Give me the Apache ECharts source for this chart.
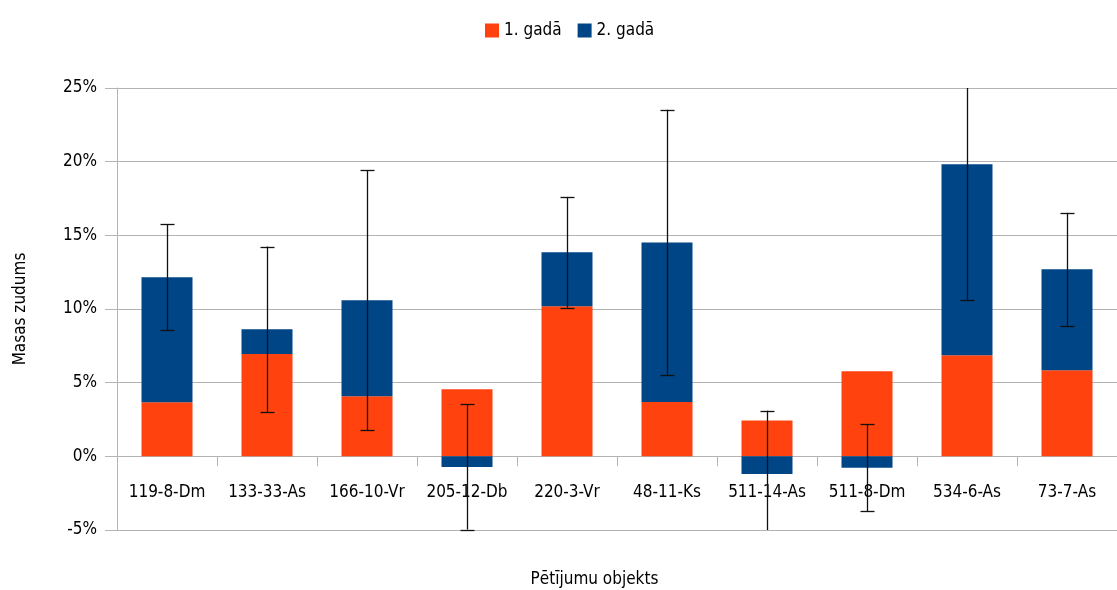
<!DOCTYPE html>
<html>
<head>
<meta charset="utf-8">
<script src="https://cdn.jsdelivr.net/npm/echarts@6/dist/echarts.min.js"></script>
<style>html,body{margin:0;padding:0;background:#fff}#c{width:1117px;height:590px}</style>
</head>
<body>
<div id="c"></div>
<script>
const categories = ['119-8-Dm','133-33-As','166-10-Vr','205-12-Db','220-3-Vr','48-11-Ks','511-14-As','511-8-Dm','534-6-As','73-7-As'];
const year1 = [3.67, 6.94, 4.07, 4.55, 10.18, 3.69, 2.44, 5.77, 6.86, 5.84];
const year2 = [8.48, 1.68, 6.52, -0.72, 3.67, 10.83, -1.20, -0.77, 12.96, 6.85];
const errors = [3.60, 5.62, 8.83, 4.25, 3.76, 9.00, 4.30, 2.94, 9.19, 3.84];
const seriesNames = ['1. gadā', '2. gadā'];
const yTicks = {min: -5, max: 25, interval: 5};

const FONT = "'DejaVu Sans Condensed', 'DejaVu Sans', sans-serif";
const FS = 17;
const errData = categories.map((c, i) => {
  const center = year2[i] >= 0 ? year1[i] + year2[i] : year2[i];
  return [i, center, errors[i]];
});

const chart = echarts.init(document.getElementById('c'));
chart.setOption({
  animation: false,
  textStyle: {fontFamily: FONT, color: '#000'},
  legend: {
    data: seriesNames, top: 17, left: 480, icon: 'rect',
    itemWidth: 14, itemHeight: 14, itemGap: 16,
    textStyle: {fontFamily: FONT, fontSize: FS, color: '#000'}
  },
  grid: {left: 117, right: 0, top: 88, bottom: 60, containLabel: false, outerBoundsMode: 'none'},
  xAxis: {
    type: 'category', data: categories,
    name: 'Pētījumu objekts', nameLocation: 'middle', nameGap: 41,
    nameTextStyle: {fontFamily: FONT, fontSize: FS, color: '#000', padding: [0, 45, 0, 0]},
    axisLine: {onZero: true, lineStyle: {color: '#b3b3b3'}},
    axisTick: {show: true, length: 10, lineStyle: {color: '#b3b3b3'}},
    axisLabel: {interval: 0, margin: -46, fontSize: FS, color: '#000', fontFamily: FONT}
  },
  yAxis: {
    type: 'value', min: yTicks.min, max: yTicks.max, interval: yTicks.interval,
    name: 'Masas zudums', nameLocation: 'middle', nameGap: 88,
    nameTextStyle: {fontFamily: FONT, fontSize: FS, color: '#000'},
    axisLine: {show: true, lineStyle: {color: '#b3b3b3'}},
    axisTick: {show: true, length: 12, lineStyle: {color: '#b3b3b3'}},
    axisLabel: {formatter: '{value}%', margin: 20, fontSize: FS, color: '#000', fontFamily: FONT},
    splitLine: {show: true, lineStyle: {color: '#b3b3b3'}}
  },
  series: [
    {name: seriesNames[0], type: 'bar', stack: 'a', data: year1, barWidth: '51%', itemStyle: {color: '#ff420e'}},
    {name: seriesNames[1], type: 'bar', stack: 'a', data: year2, barWidth: '51%', itemStyle: {color: '#004586'}},
    {
      type: 'custom', name: 'err', data: errData, z: 10, silent: true,
      encode: {x: 0, y: 1},
      renderItem: function (params, api) {
        const i = api.value(0), c = api.value(1), e = api.value(2);
        const x = Math.round(api.coord([i, c])[0]) + 0.5;
        let yt = api.coord([i, c + e])[1];
        let yb = api.coord([i, c - e])[1];
        const cs = params.coordSys;
        const minY = cs.y, maxY = cs.y + cs.height;
        const children = [];
        const topIn = yt >= minY, botIn = yb <= maxY;
        yt = Math.max(yt, minY); yb = Math.min(yb, maxY);
        const st = {stroke: '#111', lineWidth: 1.3};
        children.push({type: 'line', shape: {x1: x, y1: yt, x2: x, y2: yb}, style: st});
        if (topIn) children.push({type: 'line', shape: {x1: x - 7, y1: Math.round(yt) + 0.5, x2: x + 7, y2: Math.round(yt) + 0.5}, style: st});
        if (botIn) children.push({type: 'line', shape: {x1: x - 7, y1: Math.round(yb) + 0.5, x2: x + 7, y2: Math.round(yb) + 0.5}, style: st});
        return {type: 'group', children: children};
      }
    }
  ]
});
</script>
</body>
</html>
